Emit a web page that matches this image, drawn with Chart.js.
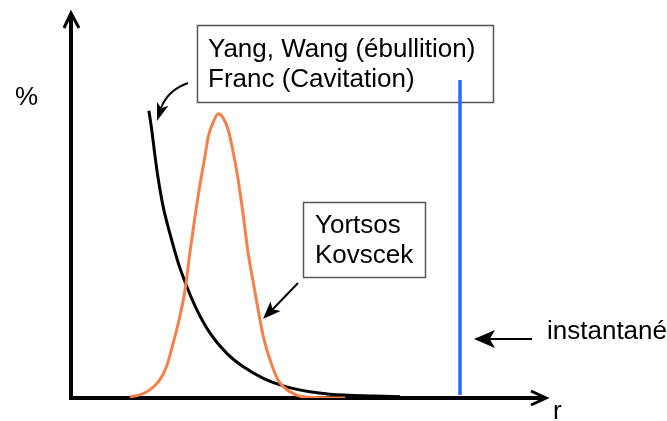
<!DOCTYPE html>
<html>
<head>
<meta charset="utf-8">
<script src="https://cdn.jsdelivr.net/npm/chart.js@4/dist/chart.umd.min.js"></script>
<style>
  html, body { margin: 0; padding: 0; background: #fff; }
  #wrap { width: 667px; height: 421px; }
</style>
</head>
<body>
<div id="wrap"><canvas id="dist" width="667" height="421"></canvas></div>
<script>
// bubble size distribution sketch: r on x, % on y (both 0..100, no ticks)
const orangeR = [12.4, 14.5, 16.6, 18.7, 20.1, 21.5, 22.9, 24.0, 25.1, 26.1, 27.2, 28.2, 28.9, 30.0, 31.0,
  32.1, 33.1, 34.2, 35.2, 36.3, 37.3, 38.4, 39.4, 40.5, 41.9, 43.6, 46.1, 48.9, 54.5, 57.7];
const orangePct = [0.3, 0.8, 2.1, 4.7, 8.1, 14.2, 21.1, 28.0, 38.4, 47.1, 55.8, 62.7, 67.9, 71.8, 73.8,
  72.6, 69.6, 63.5, 56.6, 47.1, 37.6, 29.8, 22.9, 15.9, 9.9, 4.7, 1.6, 0.3, 0, 0];

const blackR = [16.4, 17.0, 17.7, 18.4, 19.4, 20.8, 22.6, 24.4, 26.5, 29.3, 32.8, 36.3, 40.5, 45.4, 50.3, 54.5, 64.0, 69.3];
const blackPct = [74.6, 69.6, 62.7, 56.6, 49.7, 42.8, 35.0, 28.9, 22.9, 16.8, 11.6, 8.1, 5.1, 2.9, 1.6, 1.0, 0.5, 0.3];

const blueR = [81.9, 81.9];
const bluePct = [0.8, 82.6];

const toPoints = (xs, ys) => xs.map((x, i) => ({ x: x, y: ys[i] }));

const FONT = '26px "Liberation Sans", Arial, sans-serif';

function arrowHead(ctx, tipX, tipY, fromX, fromY, len, half) {
  const a = Math.atan2(tipY - fromY, tipX - fromX);
  const bx = tipX - len * Math.cos(a), by = tipY - len * Math.sin(a);
  const nx = -Math.sin(a) * half, ny = Math.cos(a) * half;
  ctx.beginPath();
  ctx.moveTo(tipX, tipY);
  ctx.lineTo(bx + nx, by + ny);
  ctx.lineTo(tipX - len * 0.75 * Math.cos(a), tipY - len * 0.75 * Math.sin(a));
  ctx.lineTo(bx - nx, by - ny);
  ctx.closePath();
  ctx.fill();
}

// axes with open arrow tips, text boxes and labels, all under the curves
const backdropPlugin = {
  id: 'backdrop',
  beforeDatasetsDraw(chart) {
    const { ctx, chartArea: a } = chart;
    ctx.save();
    ctx.strokeStyle = '#000';
    ctx.lineWidth = 4;
    ctx.beginPath();
    ctx.moveTo(a.left, a.top + 2);
    ctx.lineTo(a.left, a.bottom);
    ctx.lineTo(a.right - 2, a.bottom);
    ctx.stroke();
    ctx.lineWidth = 3;
    ctx.beginPath();
    ctx.moveTo(a.left - 7, a.top + 15);
    ctx.lineTo(a.left, a.top);
    ctx.lineTo(a.left + 8, a.top + 15);
    ctx.moveTo(a.right - 15, a.bottom - 7);
    ctx.lineTo(a.right, a.bottom);
    ctx.lineTo(a.right - 15, a.bottom + 7);
    ctx.stroke();

    ctx.strokeStyle = '#555';
    ctx.lineWidth = 1.5;
    ctx.strokeRect(197.5, 25.5, 296, 77);
    ctx.strokeRect(303.5, 202.5, 122, 75);

    ctx.font = FONT;
    ctx.fillStyle = '#000';
    ctx.fillText('%', 15, 105);
    ctx.fillText('r', 553, 419);
    ctx.fillText('instantané', 547, 339);
    ctx.fillText('Yang, Wang (ébullition)', 208, 57);
    ctx.fillText('Franc (Cavitation)', 208, 87);
    ctx.fillText('Yortsos', 315, 233);
    ctx.fillText('Kovscek', 315, 263);

    ctx.strokeStyle = '#000';
    ctx.lineWidth = 2;
    // curved pointer to the black curve
    ctx.beginPath();
    ctx.moveTo(188, 83);
    ctx.quadraticCurveTo(168, 90, 161, 108);
    ctx.stroke();
    arrowHead(ctx, 157, 121, 163, 103, 18, 6);
    // pointer to the orange curve
    ctx.beginPath();
    ctx.moveTo(298, 283);
    ctx.lineTo(272, 310);
    ctx.stroke();
    arrowHead(ctx, 263, 319, 298, 283, 18, 7);
    // pointer to the blue line
    ctx.beginPath();
    ctx.moveTo(532, 339);
    ctx.lineTo(490, 339);
    ctx.stroke();
    arrowHead(ctx, 474, 339, 532, 339, 21, 9);
    ctx.restore();
  }
};

new Chart(document.getElementById('dist'), {
  type: 'line',
  data: {
    datasets: [
      {
        data: toPoints(orangeR, orangePct),
        borderColor: '#f7804a',
        borderWidth: 3,
        pointRadius: 0,
        cubicInterpolationMode: 'monotone'
      },
      {
        data: toPoints(blackR, blackPct),
        borderColor: '#000',
        borderWidth: 3,
        pointRadius: 0,
        cubicInterpolationMode: 'monotone'
      },
      {
        data: toPoints(blueR, bluePct),
        borderColor: '#3366ff',
        borderWidth: 3.5,
        pointRadius: 0
      }
    ]
  },
  options: {
    responsive: false,
    devicePixelRatio: 1,
    animation: false,
    layout: { padding: { left: 71, right: 121, top: 13, bottom: 23 } },
    scales: {
      x: { type: 'linear', min: 0, max: 100, display: false },
      y: { min: 0, max: 100, display: false }
    },
    plugins: {
      legend: { display: false },
      tooltip: { enabled: false }
    }
  },
  plugins: [backdropPlugin]
});
</script>
</body>
</html>
